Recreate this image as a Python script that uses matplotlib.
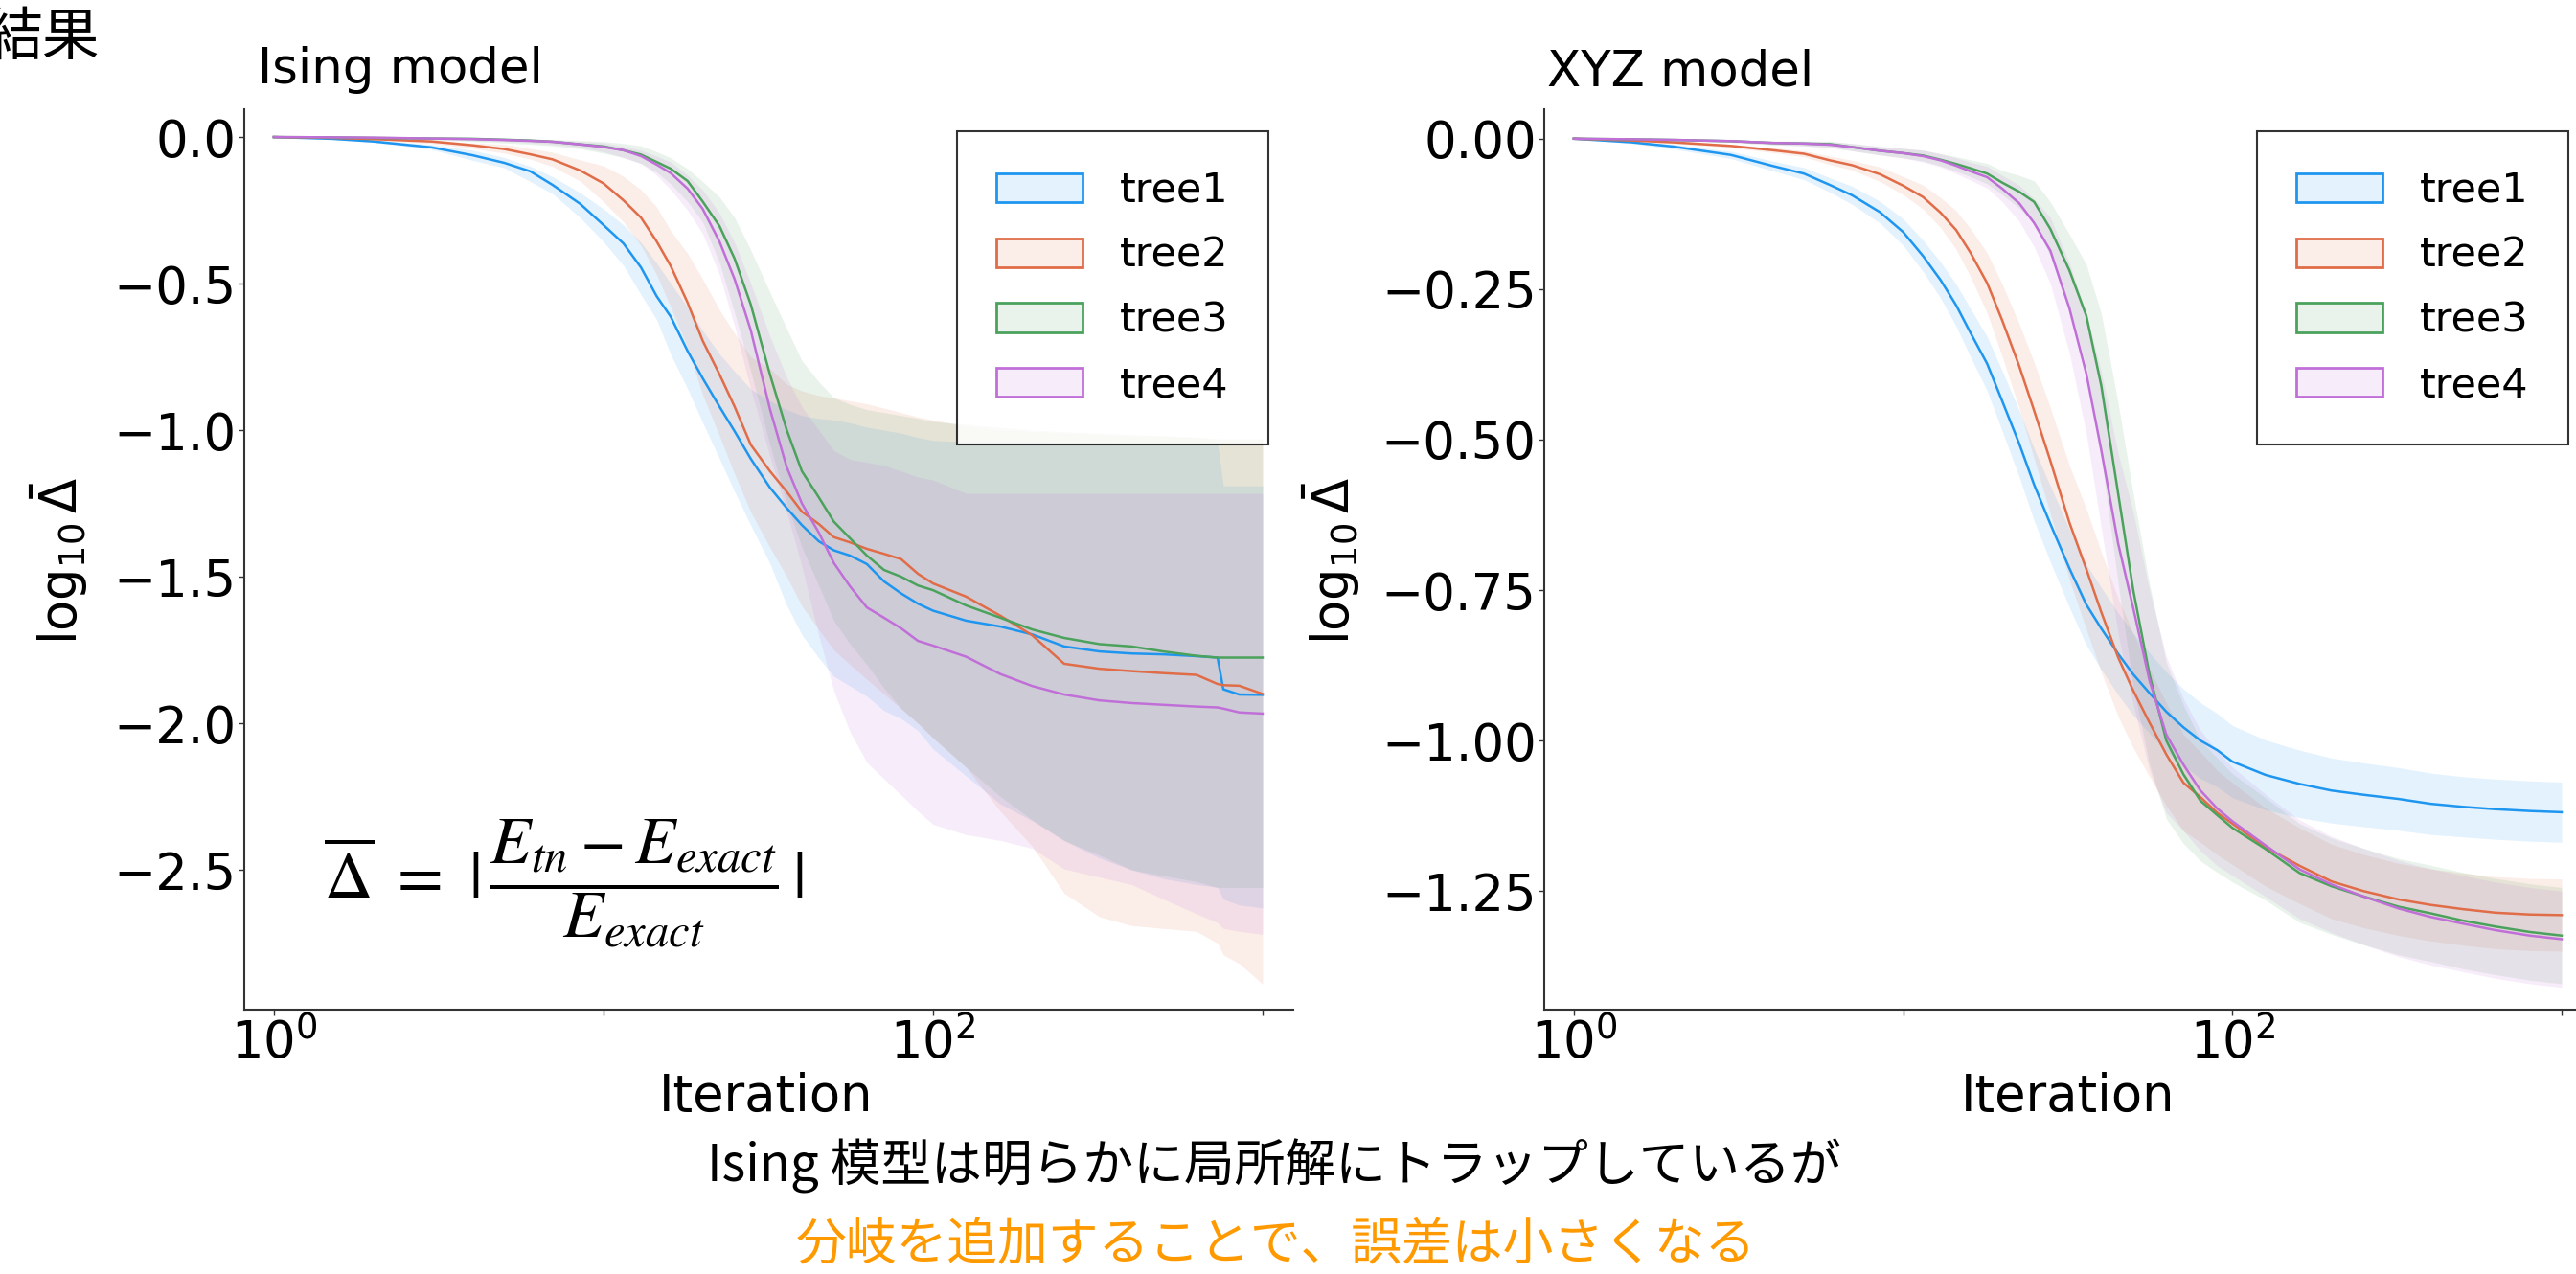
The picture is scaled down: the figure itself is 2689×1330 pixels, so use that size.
import matplotlib
matplotlib.use('Agg')
import matplotlib.pyplot as plt
from matplotlib.colors import to_rgba
from matplotlib.patches import Patch
from matplotlib.ticker import FixedLocator, FixedFormatter, NullLocator

plt.rcParams['font.family'] = ['DejaVu Sans']
plt.rcParams['mathtext.fontset'] = 'dejavusans'

# ---- data ----
tree_names = ['tree1', 'tree2', 'tree3', 'tree4']
tree_colors = ['#1E96F0', '#E06C48', '#4BA25C', '#C16FD8']

ising_iter = [1, 1.5, 2, 3, 4, 5, 6, 7, 8.5, 10, 11.5, 13, 14.5, 16, 18, 20, 22.5, 25, 28, 32, 36, 40, 45, 50,
              56, 63, 71, 80, 90, 100, 126, 160, 200, 250, 320, 400, 500, 630, 730, 760, 850, 1000]

ising_t1 = [0, -0.006, -0.015, -0.035, -0.062, -0.088, -0.117, -0.163, -0.228, -0.30, -0.363, -0.445, -0.543,
            -0.613, -0.73, -0.823, -0.92, -1.004, -1.098, -1.196, -1.266, -1.324, -1.379, -1.41, -1.428, -1.457,
            -1.516, -1.557, -1.592, -1.616, -1.65, -1.67, -1.697, -1.738, -1.755, -1.762, -1.765, -1.771, -1.776,
            -1.884, -1.902, -1.903]
ising_t1_lo = [0, -0.007, -0.018, -0.042, -0.079, -0.105, -0.152, -0.193, -0.275, -0.357, -0.438, -0.538, -0.623,
               -0.742, -0.859, -0.974, -1.098, -1.21, -1.325, -1.455, -1.598, -1.698, -1.777, -1.84, -1.873, -1.908,
               -1.957, -1.984, -2.025, -2.088, -2.18, -2.275, -2.333, -2.4, -2.46, -2.5, -2.53, -2.55, -2.56,
               -2.6, -2.62, -2.63]
ising_t1_hi = [0, -0.004, -0.01, -0.025, -0.045, -0.07, -0.1, -0.135, -0.19, -0.245, -0.3, -0.36, -0.43,
               -0.5, -0.58, -0.66, -0.74, -0.8, -0.86, -0.9, -0.93, -0.95, -0.96, -0.965, -0.975, -0.99,
               -1.0, -1.01, -1.025, -1.035, -1.04, -1.04, -1.04, -1.042, -1.042, -1.044, -1.044, -1.045, -1.045,
               -1.19, -1.19, -1.19]

ising_t2 = [0, -0.003, -0.007, -0.015, -0.028, -0.041, -0.059, -0.076, -0.114, -0.158, -0.216, -0.275, -0.356,
            -0.44, -0.565, -0.695, -0.81, -0.92, -1.05, -1.14, -1.21, -1.278, -1.32, -1.365, -1.383, -1.405,
            -1.422, -1.44, -1.49, -1.523, -1.568, -1.633, -1.70, -1.797, -1.814, -1.822, -1.829, -1.835, -1.866,
            -1.87, -1.872, -1.90]
ising_t2_lo = [0, -0.004, -0.01, -0.022, -0.038, -0.055, -0.075, -0.1, -0.15, -0.22, -0.29, -0.37, -0.47,
               -0.58, -0.72, -0.88, -1.02, -1.15, -1.28, -1.4, -1.5, -1.6, -1.68, -1.75, -1.8, -1.85,
               -1.9, -1.95, -2.0, -2.05, -2.15, -2.3, -2.42, -2.58, -2.66, -2.69, -2.70, -2.71, -2.75,
               -2.79, -2.82, -2.89]
ising_t2_hi = [0, -0.001, -0.004, -0.01, -0.02, -0.025, -0.039, -0.052, -0.078, -0.098, -0.134, -0.18, -0.239,
               -0.32, -0.397, -0.485, -0.59, -0.67, -0.75, -0.79, -0.843, -0.866, -0.882, -0.89, -0.9, -0.91,
               -0.925, -0.94, -0.955, -0.965, -0.987, -1.0, -1.005, -1.01, -1.015, -1.02, -1.02, -1.025, -1.03,
               -1.03, -1.03, -1.03]

ising_t3 = [0, -0.001, -0.003, -0.005, -0.006, -0.009, -0.012, -0.016, -0.025, -0.032, -0.045, -0.06, -0.085,
            -0.108, -0.15, -0.22, -0.304, -0.415, -0.572, -0.81, -1.0, -1.14, -1.229, -1.312, -1.369, -1.428,
            -1.477, -1.5, -1.53, -1.546, -1.598, -1.64, -1.68, -1.709, -1.73, -1.738, -1.755, -1.77, -1.776,
            -1.776, -1.776, -1.776]
ising_t3_lo = [0, -0.002, -0.005, -0.01, -0.015, -0.02, -0.025, -0.03, -0.04, -0.055, -0.07, -0.09, -0.12,
               -0.16, -0.22, -0.29, -0.43, -0.6, -0.8, -1.05, -1.25, -1.4, -1.53, -1.65, -1.73, -1.8,
               -1.88, -1.95, -2.0, -2.05, -2.15, -2.25, -2.33, -2.4, -2.45, -2.5, -2.52, -2.54, -2.56,
               -2.56, -2.56, -2.56]
ising_t3_hi = [0, 0, 0, -0.001, -0.001, -0.004, -0.006, -0.008, -0.012, -0.015, -0.022, -0.03, -0.05,
               -0.071, -0.108, -0.152, -0.205, -0.275, -0.386, -0.53, -0.654, -0.763, -0.835, -0.889, -0.912, -0.93,
               -0.94, -0.95, -0.96, -0.97, -0.98, -0.99, -1.0, -1.005, -1.01, -1.015, -1.02, -1.025, -1.03,
               -1.03, -1.03, -1.03]

ising_t4 = [0, -0.001, -0.002, -0.005, -0.007, -0.01, -0.013, -0.016, -0.025, -0.034, -0.045, -0.065, -0.094,
            -0.123, -0.176, -0.245, -0.357, -0.485, -0.66, -0.928, -1.127, -1.25, -1.349, -1.453, -1.533, -1.605,
            -1.64, -1.676, -1.719, -1.735, -1.773, -1.832, -1.873, -1.902, -1.922, -1.931, -1.937, -1.943, -1.946,
            -1.95, -1.963, -1.967]
ising_t4_lo = [0, -0.002, -0.004, -0.008, -0.012, -0.015, -0.02, -0.025, -0.035, -0.05, -0.07, -0.09, -0.13,
               -0.18, -0.25, -0.33, -0.47, -0.647, -0.86, -1.09, -1.28, -1.465, -1.7, -1.89, -2.03, -2.134,
               -2.19, -2.245, -2.3, -2.345, -2.38, -2.4, -2.427, -2.497, -2.525, -2.55, -2.6, -2.65, -2.68,
               -2.7, -2.71, -2.72]
ising_t4_hi = [0, 0, 0, -0.002, -0.003, -0.006, -0.008, -0.01, -0.015, -0.02, -0.032, -0.045, -0.065,
               -0.085, -0.13, -0.18, -0.26, -0.36, -0.5, -0.68, -0.82, -0.92, -1.0, -1.07, -1.1, -1.11,
               -1.12, -1.14, -1.16, -1.17, -1.216, -1.216, -1.216, -1.216, -1.216, -1.216, -1.216, -1.216, -1.216,
               -1.216, -1.216, -1.216]

xyz_iter = [1, 1.5, 2, 3, 4, 5, 6, 7, 8.5, 10, 11.5, 13, 14.5, 16, 18, 20, 22.5, 25, 28, 32, 36, 40, 45, 50,
            56, 63, 71, 80, 90, 100, 126, 160, 200, 250, 320, 400, 500, 630, 800, 1000]

xyz_t1 = [0, -0.006, -0.013, -0.027, -0.045, -0.058, -0.077, -0.094, -0.122, -0.155, -0.195, -0.235, -0.277,
          -0.322, -0.374, -0.436, -0.506, -0.575, -0.64, -0.714, -0.774, -0.814, -0.856, -0.89, -0.921, -0.952,
          -0.978, -1.0, -1.016, -1.035, -1.057, -1.072, -1.083, -1.09, -1.097, -1.105, -1.11, -1.114, -1.117, -1.119]
xyz_t1_lo = [0, -0.008, -0.017, -0.033, -0.053, -0.068, -0.089, -0.109, -0.14, -0.177, -0.221, -0.265, -0.312,
             -0.362, -0.419, -0.486, -0.561, -0.635, -0.703, -0.779, -0.841, -0.882, -0.924, -0.958, -0.988, -1.018,
             -1.042, -1.063, -1.077, -1.095, -1.115, -1.128, -1.137, -1.143, -1.149, -1.156, -1.16, -1.164, -1.167,
             -1.169]
xyz_t1_hi = [0, -0.004, -0.009, -0.021, -0.037, -0.048, -0.065, -0.079, -0.104, -0.133, -0.169, -0.205, -0.242,
             -0.282, -0.329, -0.386, -0.451, -0.515, -0.577, -0.649, -0.707, -0.746, -0.788, -0.822, -0.854, -0.886,
             -0.914, -0.937, -0.955, -0.975, -0.999, -1.016, -1.029, -1.037, -1.045, -1.054, -1.06, -1.064, -1.067,
             -1.069]

xyz_t2 = [0, -0.003, -0.006, -0.012, -0.019, -0.025, -0.036, -0.044, -0.059, -0.078, -0.097, -0.123, -0.152,
          -0.189, -0.24, -0.302, -0.377, -0.452, -0.535, -0.638, -0.715, -0.787, -0.862, -0.917, -0.97, -1.023,
          -1.07, -1.094, -1.12, -1.138, -1.177, -1.208, -1.234, -1.25, -1.264, -1.273, -1.28, -1.286, -1.289, -1.29]
xyz_t2_lo = [0, -0.004, -0.008, -0.015, -0.023, -0.03, -0.043, -0.052, -0.071, -0.093, -0.117, -0.148, -0.184,
             -0.229, -0.29, -0.362, -0.447, -0.532, -0.623, -0.733, -0.815, -0.887, -0.96, -1.012, -1.06, -1.108,
             -1.15, -1.169, -1.19, -1.206, -1.242, -1.271, -1.296, -1.311, -1.324, -1.333, -1.34, -1.346, -1.349,
             -1.35]
xyz_t2_hi = [0, -0.002, -0.004, -0.009, -0.015, -0.02, -0.029, -0.036, -0.047, -0.063, -0.077, -0.098, -0.12,
             -0.149, -0.19, -0.242, -0.307, -0.372, -0.447, -0.543, -0.615, -0.687, -0.764, -0.822, -0.88, -0.938,
             -0.99, -1.019, -1.05, -1.07, -1.112, -1.145, -1.172, -1.189, -1.204, -1.213, -1.22, -1.226, -1.229,
             -1.23]

xyz_t3 = [0, -0.001, -0.002, -0.004, -0.007, -0.008, -0.009, -0.014, -0.02, -0.024, -0.028, -0.035, -0.042,
          -0.049, -0.058, -0.073, -0.088, -0.105, -0.15, -0.219, -0.294, -0.411, -0.59, -0.75, -0.89, -1.0,
          -1.056, -1.10, -1.124, -1.145, -1.18, -1.22, -1.242, -1.259, -1.276, -1.287, -1.299, -1.309, -1.318, -1.324]
xyz_t3_lo = [0, -0.001, -0.003, -0.006, -0.01, -0.012, -0.014, -0.02, -0.027, -0.032, -0.037, -0.045, -0.054,
             -0.063, -0.075, -0.093, -0.115, -0.14, -0.195, -0.279, -0.379, -0.531, -0.74, -0.91, -1.04, -1.13,
             -1.171, -1.2, -1.219, -1.235, -1.265, -1.302, -1.322, -1.339, -1.356, -1.367, -1.379, -1.389, -1.398,
             -1.404]
xyz_t3_hi = [0, 0, -0.001, -0.002, -0.004, -0.004, -0.004, -0.008, -0.013, -0.016, -0.019, -0.025, -0.03,
             -0.035, -0.041, -0.053, -0.061, -0.07, -0.105, -0.159, -0.209, -0.291, -0.44, -0.59, -0.74, -0.87,
             -0.941, -1.0, -1.029, -1.055, -1.095, -1.138, -1.162, -1.179, -1.196, -1.207, -1.219, -1.229, -1.238,
             -1.244]

xyz_t4 = [0, -0.001, -0.002, -0.004, -0.007, -0.008, -0.01, -0.014, -0.02, -0.024, -0.029, -0.036, -0.045,
          -0.054, -0.064, -0.083, -0.107, -0.14, -0.186, -0.282, -0.39, -0.518, -0.673, -0.78, -0.9, -0.99,
          -1.04, -1.083, -1.113, -1.134, -1.174, -1.214, -1.239, -1.259, -1.279, -1.293, -1.304, -1.315, -1.324, -1.33]
xyz_t4_lo = [0, -0.001, -0.003, -0.006, -0.01, -0.012, -0.015, -0.02, -0.027, -0.032, -0.039, -0.047, -0.058,
             -0.069, -0.082, -0.105, -0.137, -0.18, -0.241, -0.357, -0.49, -0.648, -0.823, -0.94, -1.05, -1.12,
             -1.15, -1.183, -1.208, -1.224, -1.259, -1.296, -1.319, -1.339, -1.359, -1.373, -1.384, -1.395, -1.404,
             -1.41]
xyz_t4_hi = [0, 0, -0.001, -0.002, -0.004, -0.004, -0.005, -0.008, -0.013, -0.016, -0.019, -0.025, -0.032,
             -0.039, -0.046, -0.061, -0.077, -0.1, -0.131, -0.207, -0.29, -0.388, -0.523, -0.62, -0.75, -0.86,
             -0.93, -0.983, -1.018, -1.044, -1.089, -1.132, -1.159, -1.179, -1.199, -1.213, -1.224, -1.235, -1.244,
             -1.25]

ising_yticks = [0.0, -0.5, -1.0, -1.5, -2.0, -2.5]
xyz_yticks = [0.0, -0.25, -0.5, -0.75, -1.0, -1.25]
x_ticks = [1, 10, 100, 1000]
x_ticklabels = ['$10^{0}$', '', '$10^{2}$', '']

# ---- figure ----
W, H = 2689, 1330
fig = plt.figure(figsize=(W / 100, H / 100), dpi=100)


def fx(px):
    return px / W


def fy(py):
    return 1 - py / H


ax1 = fig.add_axes([fx(255), fy(1054), (1350 - 255) / W, (1054 - 114) / H])
ax2 = fig.add_axes([fx(1612), fy(1054), (2706 - 1612) / W, (1054 - 114) / H])

panels = [
    (ax1, ising_iter,
     [ising_t1, ising_t2, ising_t3, ising_t4],
     [ising_t1_lo, ising_t2_lo, ising_t3_lo, ising_t4_lo],
     [ising_t1_hi, ising_t2_hi, ising_t3_hi, ising_t4_hi],
     (-2.977, 0.095), ising_yticks, 999),
    (ax2, xyz_iter,
     [xyz_t1, xyz_t2, xyz_t3, xyz_t4],
     [xyz_t1_lo, xyz_t2_lo, xyz_t3_lo, xyz_t4_lo],
     [xyz_t1_hi, xyz_t2_hi, xyz_t3_hi, xyz_t4_hi],
     (-1.447, 0.049), xyz_yticks, 2356),
]

for ax, it, means, lows, highs, ylim, yticks, legend_x in panels:
    for k in range(4):
        ax.fill_between(it, lows[k], highs[k], color=tree_colors[k], alpha=0.12, lw=0)
    for k in range(4):
        ax.plot(it, means[k], color=tree_colors[k], lw=1.8)
    ax.set_xscale('log')
    ax.set_xlim(0.813, 1239)
    ax.set_ylim(*ylim)
    ax.xaxis.set_major_locator(FixedLocator(x_ticks))
    ax.xaxis.set_major_formatter(FixedFormatter(x_ticklabels))
    ax.xaxis.set_minor_locator(NullLocator())
    ax.set_yticks(yticks)
    for side in ['top', 'right']:
        ax.spines[side].set_visible(False)
    for side in ['left', 'bottom']:
        ax.spines[side].set_color('#333333')
        ax.spines[side].set_linewidth(1.5)
    ax.tick_params(axis='both', direction='out', length=4, width=1, colors='#333333',
                   labelcolor='black', labelsize=38, pad=2)

    handles = [Patch(facecolor=to_rgba(tree_colors[k], 0.12), edgecolor=tree_colors[k], lw=2,
                     label=tree_names[k]) for k in range(4)]
    leg = fig.legend(handles=handles, loc='upper left', bbox_to_anchor=(fx(legend_x), fy(137)),
                     fontsize=31, frameon=True, fancybox=False, borderpad=0.95,
                     handlelength=2.1, handleheight=0.7, handletextpad=0.9,
                     labelspacing=0.6, borderaxespad=0)
    leg.get_frame().set_edgecolor('black')
    leg.get_frame().set_linewidth(1.5)

# titles and labels
fig.text(fx(269), fy(87), 'Ising model', fontsize=37, va='baseline', ha='left')
fig.text(fx(1615), fy(89), 'XYZ model', fontsize=37, va='baseline', ha='left')
fig.text(fx(62), fy(585), r'$\log_{10}\bar{\Delta}$', fontsize=38, rotation=90, ha='center', va='center')
fig.text(fx(1390), fy(585), r'$\log_{10}\bar{\Delta}$', fontsize=38, rotation=90, ha='center', va='center')
fig.text(fx(800), fy(1145), 'Iteration', fontsize=38, ha='center', va='center')
fig.text(fx(2159), fy(1145), 'Iteration', fontsize=38, ha='center', va='center')

# formula
fig.text(fx(338), fy(922), r'$\overline{\Delta}\ =\ |\,\dfrac{E_{tn}-E_{exact}}{E_{exact}}\,|$',
         fontsize=50, math_fontfamily='stix', ha='left', va='center')

# slide text
cjk = ['Noto Sans CJK JP', 'DejaVu Sans']
fig.text(fx(104), fy(40), '結果', fontsize=43, family=cjk, ha='right', va='center')
fig.text(fx(1330), fy(1217), 'Ising 模型は明らかに局所解にトラップしているが', fontsize=38,
         family=cjk, ha='center', va='center', color='black')
fig.text(fx(1332), fy(1300), '分岐を追加することで、誤差は小さくなる', fontsize=38,
         family=cjk, ha='center', va='center', color='#FF9900')

fig.savefig('out.png', dpi=100)
